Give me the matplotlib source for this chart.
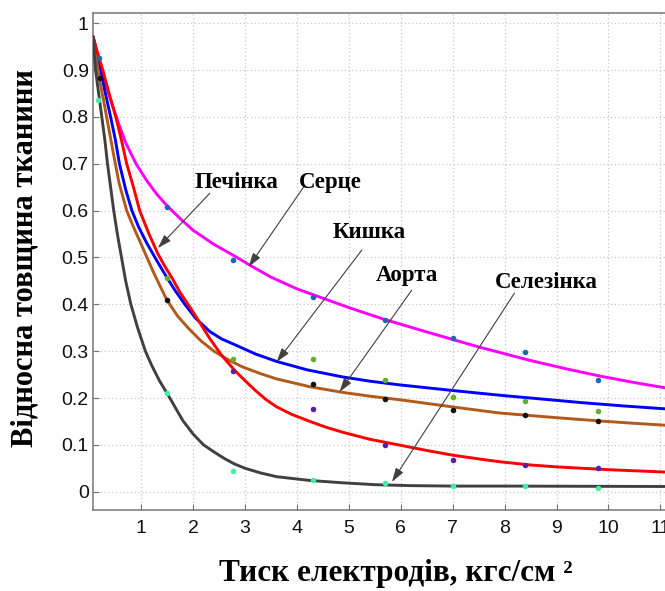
import matplotlib
matplotlib.use("Agg")
import matplotlib.pyplot as plt

# ---- data ----
x_heart = [0.07, 0.15, 0.25, 0.40, 0.55, 0.70, 0.90, 1.10, 1.30, 1.50, 1.75, 2.00, 2.40, 2.80, 3.07, 3.50, 4.00, 4.50, 5.00, 5.65, 6.50, 7.50, 8.50, 9.20, 9.83, 10.50, 11.08, 11.60]
y_heart = [0.972, 0.935, 0.895, 0.840, 0.790, 0.745, 0.700, 0.665, 0.635, 0.610, 0.583, 0.558, 0.528, 0.503, 0.485, 0.458, 0.433, 0.413, 0.393, 0.369, 0.341, 0.309, 0.280, 0.262, 0.247, 0.233, 0.222, 0.213]

x_gut = [0.07, 0.15, 0.22, 0.30, 0.41, 0.50, 0.58, 0.70, 0.82, 0.95, 1.10, 1.28, 1.49, 1.65, 1.84, 2.05, 2.32, 2.55, 2.80, 3.20, 3.61, 4.20, 4.88, 5.40, 5.98, 7.00, 7.90, 8.70, 9.50, 10.30, 11.08, 11.60]
y_gut = [0.972, 0.935, 0.900, 0.855, 0.800, 0.752, 0.700, 0.645, 0.600, 0.565, 0.532, 0.497, 0.458, 0.430, 0.400, 0.370, 0.342, 0.326, 0.314, 0.294, 0.278, 0.260, 0.245, 0.236, 0.228, 0.216, 0.206, 0.198, 0.190, 0.183, 0.177, 0.173]

x_liver = [0.07, 0.15, 0.26, 0.38, 0.51, 0.62, 0.72, 0.85, 0.97, 1.15, 1.32, 1.45, 1.60, 1.75, 1.95, 2.15, 2.32, 2.55, 2.80, 3.00, 3.20, 3.40, 3.61, 3.90, 4.25, 4.55, 4.88, 5.40, 6.00, 6.50, 7.00, 7.50, 7.90, 8.50, 9.00, 10.00, 11.08, 11.60]
y_liver = [0.972, 0.940, 0.900, 0.850, 0.800, 0.750, 0.700, 0.650, 0.600, 0.550, 0.508, 0.482, 0.455, 0.425, 0.392, 0.357, 0.327, 0.291, 0.259, 0.237, 0.216, 0.197, 0.181, 0.165, 0.150, 0.138, 0.127, 0.112, 0.099, 0.088, 0.078, 0.070, 0.064, 0.057, 0.053, 0.047, 0.042, 0.040]

x_aorta = [0.07, 0.18, 0.30, 0.45, 0.57, 0.72, 0.85, 1.00, 1.09, 1.25, 1.49, 1.70, 1.90, 2.15, 2.40, 2.70, 2.96, 3.30, 3.60, 4.25, 4.88, 5.40, 6.00, 7.00, 7.90, 9.00, 9.83, 10.50, 11.08, 11.60]
y_aorta = [0.972, 0.890, 0.820, 0.730, 0.660, 0.600, 0.565, 0.528, 0.505, 0.465, 0.410, 0.375, 0.350, 0.322, 0.300, 0.280, 0.266, 0.252, 0.241, 0.224, 0.212, 0.204, 0.196, 0.181, 0.168, 0.158, 0.151, 0.146, 0.142, 0.139]

x_spleen = [0.07, 0.12, 0.18, 0.24, 0.30, 0.35, 0.41, 0.47, 0.54, 0.62, 0.70, 0.80, 0.93, 1.08, 1.20, 1.35, 1.53, 1.80, 2.00, 2.20, 2.40, 2.60, 2.80, 3.00, 3.30, 3.61, 4.25, 4.88, 5.50, 6.17, 7.00, 8.00, 11.60]
y_spleen = [0.972, 0.900, 0.850, 0.800, 0.750, 0.700, 0.650, 0.600, 0.550, 0.500, 0.450, 0.400, 0.350, 0.300, 0.270, 0.237, 0.204, 0.152, 0.123, 0.100, 0.085, 0.071, 0.059, 0.050, 0.040, 0.032, 0.024, 0.019, 0.015, 0.013, 0.012, 0.012, 0.011]

# measured points
px_heart = [0.18, 1.49, 2.76, 4.30, 5.69, 7.00, 8.40, 9.80]
py_heart = [0.925, 0.607, 0.495, 0.415, 0.367, 0.328, 0.298, 0.238]
px_gut = [1.49, 2.76, 4.30, 5.69, 7.00, 8.40, 9.80]
py_gut = [0.456, 0.283, 0.284, 0.238, 0.202, 0.194, 0.172]
px_aorta = [0.20, 1.49, 4.30, 5.69, 7.00, 8.40, 9.80]
py_aorta = [0.883, 0.409, 0.230, 0.198, 0.175, 0.164, 0.151]
px_liver = [2.76, 4.30, 5.69, 7.00, 8.40, 9.80]
py_liver = [0.258, 0.177, 0.100, 0.068, 0.057, 0.050]
px_spleen = [0.17, 1.49, 2.76, 4.30, 5.69, 7.00, 8.40, 9.80]
py_spleen = [0.836, 0.211, 0.044, 0.025, 0.019, 0.012, 0.012, 0.008]

labels = ["Печінка", "Серце", "Кишка", "Аорта", "Селезінка"]
label_xy = [(2.84, 0.659), (4.65, 0.659), (5.40, 0.554), (6.12, 0.462), (8.81, 0.447)]
arrow_start = [(2.32, 0.637), (4.15, 0.654), (5.25, 0.516), (6.21, 0.430), (8.19, 0.424)]
arrow_tip = [(1.32, 0.520), (3.07, 0.480), (3.61, 0.277), (4.82, 0.213), (5.83, 0.021)]

xticks = list(range(1, 12))
yticks = [0, 0.1, 0.2, 0.3, 0.4, 0.5, 0.6, 0.7, 0.8, 0.9, 1]
ytick_labels = ["0", "0.1", "0.2", "0.3", "0.4", "0.5", "0.6", "0.7", "0.8", "0.9", "1"]

# ---- figure ----
fig = plt.figure(figsize=(6.65, 5.91), dpi=100)
ax = fig.add_axes([0.1398, 0.1371, 0.900, 0.841])

line_kw = dict(lw=2.1, zorder=3, solid_joinstyle="round", solid_capstyle="round")
ax.plot(x_heart, y_heart, color="#ff00ff", **line_kw)
ax.plot(x_gut, y_gut, color="#0000ff", **line_kw)
ax.plot(x_aorta, y_aorta, color="#b35a1a", **line_kw)
ax.plot(x_liver, y_liver, color="#ff0000", **line_kw)
ax.plot(x_spleen, y_spleen, color="#404040", **line_kw)

ms = 4
ax.plot(px_heart, py_heart, "o", color="#1f66b8", ms=ms, mec="none", zorder=4)
ax.plot(px_gut, py_gut, "o", color="#5fb030", ms=ms, mec="none", zorder=4)
ax.plot(px_aorta, py_aorta, "o", color="#111111", ms=ms, mec="none", zorder=4)
ax.plot(px_liver, py_liver, "o", color="#5a1ea8", ms=ms, mec="none", zorder=4)
ax.plot(px_spleen, py_spleen, "o", color="#40f0a0", ms=ms, mec="none", zorder=4)

for lab, lxy, st, tp in zip(labels, label_xy, arrow_start, arrow_tip):
    ax.text(lxy[0], lxy[1], lab, ha="center", va="center",
            family="Liberation Serif", fontweight="bold", fontsize=16.5, zorder=6)
    ax.annotate("", xy=tp, xytext=st,
                arrowprops=dict(arrowstyle="-|>,head_length=0.7,head_width=0.22",
                                color="#404040", lw=0.8,
                                mutation_scale=12, shrinkA=0, shrinkB=0),
                zorder=5)

ax.set_xlim(0.07, 11.6)
ax.set_ylim(-0.039, 1.022)
ax.set_xticks(xticks)
ax.set_xticklabels([str(t) for t in xticks])
ax.set_yticks(yticks)
ax.set_yticklabels(ytick_labels)
ax.grid(True, color="#c8c8c8", linestyle=(0, (1, 2)), lw=0.9)
ax.set_axisbelow(True)
ax.tick_params(direction="in", length=4, colors="#707070", labelcolor="#111111",
               labelsize=14)
ax.tick_params(axis="x", pad=7)
ax.tick_params(axis="y", pad=3)
for lab in ax.get_xticklabels() + ax.get_yticklabels():
    lab.set_family("Liberation Sans")
for sp in ax.spines.values():
    sp.set_color("#808080")
    sp.set_linewidth(1.2)

fig.text(396 / 665, 1 - 573 / 591, "Тиск електродів, кгс/см ²", ha="center", va="center",
         family="Liberation Serif", fontweight="bold", fontsize=22.5)
fig.text(25 / 665, 1 - 258 / 591, "Відносна товщина тканини", ha="center", va="center",
         rotation=90, family="Liberation Serif", fontweight="bold", fontsize=22)

fig.savefig("out.png", dpi=100)
